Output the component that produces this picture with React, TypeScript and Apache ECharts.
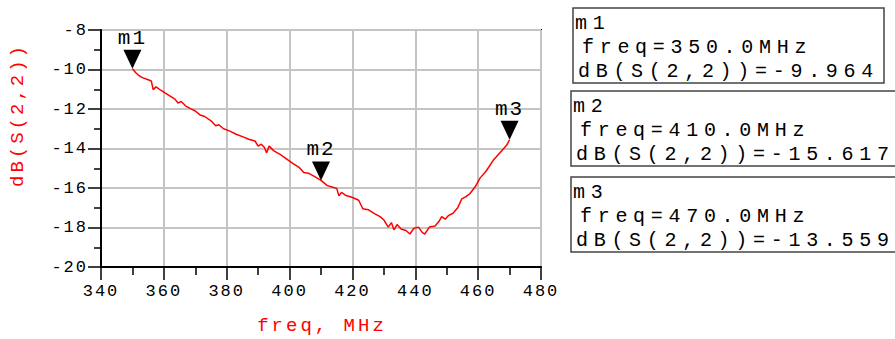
import React, { useEffect, useRef } from "react";
import * as echarts from "echarts";

// ---- data ----
const freqMHz: number[] = [
  350, 351, 352, 353, 354, 355, 356, 356.6, 357.5, 359, 361, 362.5, 363.5, 364.5, 365.5, 367, 368.5, 370,
  371.5, 373, 375, 376.5, 377.5, 379, 381, 383, 385, 387, 389, 390, 391, 392, 392.7, 393.5, 395, 397, 399,
  401, 403, 404.5, 406, 408, 410, 412, 413.5, 415, 415.7, 416.5, 418, 420, 422, 423.3, 425, 427, 428.8,
  430, 431.4, 432.4, 433.2, 434.2, 435.5, 437, 438.3, 439.5, 441, 442.2, 443, 444.5, 446.3, 447.5, 448.4,
  449.5, 450.5, 452, 453.5, 454.8, 456, 457.4, 459, 460.6, 462.5, 464.8, 467, 469, 470,
];
const dbS22: number[] = [
  -9.964, -10.15, -10.3, -10.4, -10.46, -10.52, -10.58, -11.02, -10.88, -11.05, -11.25, -11.4, -11.5, -11.7,
  -11.62, -11.85, -11.98, -12.1, -12.3, -12.38, -12.6, -12.85, -12.8, -13.0, -13.12, -13.28, -13.4, -13.53,
  -13.62, -13.88, -13.78, -13.95, -14.22, -13.88, -14.12, -14.3, -14.52, -14.75, -14.95, -15.22, -15.25,
  -15.42, -15.617, -15.88, -15.95, -16.02, -16.4, -16.22, -16.38, -16.48, -16.62, -17.05, -17.1, -17.3,
  -17.45, -17.62, -17.98, -17.75, -18.12, -17.85, -18.08, -18.15, -18.33, -18.05, -17.98, -18.25, -18.33,
  -17.98, -17.92, -17.7, -17.45, -17.58, -17.4, -17.28, -17.0, -16.55, -16.45, -16.28, -15.95, -15.5,
  -15.15, -14.6, -14.2, -13.85, -13.559,
];
const markerNames: string[] = ["m1", "m2", "m3"];
const markerFreq: number[] = [350, 410, 470];
const markerDb: number[] = [-9.964, -15.617, -13.559];

const xAxisName = "freq, MHz";
const yAxisName = "dB(S(2,2))";

const BOX_FONT = "20px 'Liberation Mono'";

export default function App() {
  const ref = useRef<HTMLDivElement>(null);

  useEffect(() => {
    if (!ref.current) return;
    const chart = echarts.init(ref.current, undefined, { renderer: "svg" });

    const boxTops = [8, 91, 177];
    const boxLefts = [573, 571, 571];
    const boxWidths = [311, 330, 330];
    const boxes: any[] = markerNames.map((name, i) => ({
      type: "group",
      children: [
        {
          type: "rect",
          shape: { x: boxLefts[i], y: boxTops[i], width: boxWidths[i], height: 75 },
          style: { fill: "#fff", stroke: "#444", lineWidth: 1.5 },
        },
        {
          type: "text",
          x: boxLefts[i] + 2,
          y: boxTops[i] + 15,
          style: { text: name, font: BOX_FONT, fill: "#000", verticalAlign: "middle", align: "left" },
        },
        {
          type: "text",
          x: boxLefts[i] + 9,
          y: boxTops[i] + 39,
          style: {
            text: `freq=${markerFreq[i].toFixed(1)}MHz`,
            font: BOX_FONT,
            fill: "#000",
            verticalAlign: "middle",
            align: "left",
          },
        },
        {
          type: "text",
          x: boxLefts[i] + 5,
          y: boxTops[i] + 63,
          style: {
            text: `dB(S(2,2))=${markerDb[i].toFixed(3)}`,
            font: BOX_FONT,
            fill: "#000",
            verticalAlign: "middle",
            align: "left",
          },
        },
      ],
    }));

    const option: any = {
      animation: false,
      backgroundColor: "#fff",
      grid: {
        left: 101,
        top: 30,
        right: 354,
        bottom: 72,
        show: true,
        borderColor: "#000",
        borderWidth: 2,
        backgroundColor: "transparent",
      },
      xAxis: {
        type: "value",
        min: 340,
        max: 480,
        interval: 20,
        axisLine: { show: true, onZero: false, lineStyle: { color: "#000", width: 2 } },
        axisTick: { show: true, inside: false, length: 13, lineStyle: { color: "#000", width: 1.5 } },
        minorTick: { show: true, splitNumber: 2, length: 8, lineStyle: { color: "#000", width: 1.5 } },
        splitLine: { show: true, lineStyle: { color: "#c4c4c4", width: 2 } },
        axisLabel: { color: "#000", fontFamily: "Liberation Mono", fontSize: 17, margin: 16 },
      },
      yAxis: {
        type: "value",
        min: -20,
        max: -8,
        interval: 2,
        axisLine: { show: true, onZero: false, lineStyle: { color: "#000", width: 2 } },
        axisTick: { show: true, inside: false, length: 13, lineStyle: { color: "#000", width: 1.5 } },
        minorTick: { show: true, splitNumber: 2, length: 7, lineStyle: { color: "#000", width: 1.5 } },
        splitLine: { show: true, lineStyle: { color: "#c4c4c4", width: 2 } },
        axisLabel: { color: "#000", fontFamily: "Liberation Mono", fontSize: 17, margin: 13 },
      },
      series: [
        {
          type: "line",
          data: freqMHz.map((f, i) => [f, dbS22[i]]),
          showSymbol: false,
          symbol: "none",
          lineStyle: { color: "#ff0000", width: 1.5 },
          z: 3,
          markPoint: {
            symbol: "path://M0,0 L18,0 L9,19 Z",
            symbolSize: [18, 19],
            symbolOffset: [0, "-50%"],
            itemStyle: { color: "#000" },
            label: {
              show: true,
              position: "top",
              distance: 1,
              color: "#000",
              fontFamily: "Liberation Mono",
              fontSize: 21,
              formatter: (p: any) => p.name,
            },
            data: markerNames.map((n, i) => ({ name: n, coord: [markerFreq[i], markerDb[i]] })),
          },
        },
      ],
      graphic: [
        {
          type: "text",
          x: 18,
          y: 115,
          rotation: Math.PI / 2,
          style: {
            text: yAxisName,
            font: "19px 'Liberation Mono'",
            fill: "#ff0000",
            align: "center",
            verticalAlign: "middle",
          },
        },
        {
          type: "text",
          x: 322,
          y: 326,
          style: {
            text: xAxisName,
            font: "19px 'Liberation Mono'",
            fill: "#ff0000",
            align: "center",
            verticalAlign: "middle",
          },
        },
        ...boxes,
      ],
    };

    chart.setOption(option);
    return () => chart.dispose();
  }, []);

  return (
    <>
      <style>{`
        .adschart text { letter-spacing: 1.5px; }
        .adschart text[style*="17px"] { letter-spacing: 2px; }
        .adschart text[style*="20px"] { letter-spacing: 5.7px; }
        .adschart text[style*="19px"] { letter-spacing: 3px; }
        .adschart text[style*="21px"] { letter-spacing: 2px; }
      `}</style>
      <div
        ref={ref}
        className="adschart"
        style={{ position: "absolute", left: 0, top: 0, width: 895, height: 339 }}
      />
    </>
  );
}
